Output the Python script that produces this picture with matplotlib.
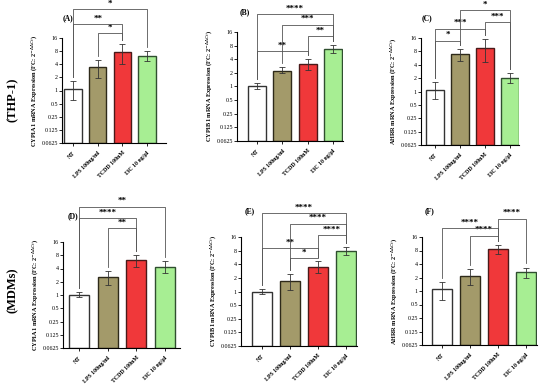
import matplotlib
matplotlib.use("Agg")
import matplotlib.pyplot as plt
import numpy as np

plt.rcParams['font.family'] = ['Liberation Serif', 'DejaVu Serif']

groups = ["NT", "LPS 100ng/ml", "TCDD 100nM", "I3C 10 ng/\u03bcl"]
ytick_vals = [0.0625, 0.125, 0.25, 0.5, 1, 2, 4, 8, 16]
ytick_labels = ["0.0625", "0.125", "0.25", "0.5", "1", "2", "4", "8", "16"]

genes = ["CYP1A1", "CYP1B1", "AHRR", "CYP1A1", "CYP1B1", "AHRR"]
panel_tags = ["(A)", "(B)", "(C)", "(D)", "(E)", "(F)"]

# means (fold change) and lower / upper error bar ends
means = [
    [1.1, 3.5, 7.6, 6.3],
    [1.03, 2.25, 3.16, 6.9],
    [1.1, 7.0, 9.7, 2.06],
    [1.02, 2.5, 6.1, 4.4],
    [1.0, 1.73, 3.53, 7.95],
    [1.11, 2.15, 8.5, 2.64],
]
err_low = [
    [0.6, 1.95, 4.1, 4.7],
    [0.87, 1.97, 2.33, 5.6],
    [0.67, 4.8, 4.7, 1.56],
    [0.91, 1.72, 4.26, 3.16],
    [0.88, 1.06, 2.55, 6.5],
    [0.64, 1.38, 6.6, 1.95],
]
err_high = [
    [1.65, 5.1, 11.8, 7.9],
    [1.22, 2.66, 4.0, 8.1],
    [1.64, 9.2, 15.5, 2.66],
    [1.15, 3.5, 8.0, 5.8],
    [1.13, 2.47, 4.7, 9.6],
    [1.61, 3.03, 10.5, 3.34],
]

# significance comparisons: (group i, group j, label)
sig = [
    [(0, 3, "*"), (0, 2, "**"), (1, 2, "*")],
    [(0, 3, "****"), (1, 3, "***"), (2, 3, "**"), (0, 2, "**")],
    [(1, 3, "*"), (2, 3, "***"), (0, 2, "***"), (0, 1, "*")],
    [(0, 3, "**"), (0, 2, "****"), (1, 2, "**")],
    [(0, 3, "****"), (1, 3, "****"), (2, 3, "****"), (0, 2, "**"), (1, 2, "*")],
    [(2, 3, "****"), (0, 2, "****"), (1, 2, "****")],
]
# bracket heights in log2 units
sig_levels = [
    [6.19, 5.07, 4.36],
    [5.31, 4.54, 3.7, 2.6],
    [6.09, 5.19, 4.69, 3.8],
    [6.66, 5.78, 5.03],
    [5.74, 4.96, 4.15, 3.17, 2.43],
    [5.35, 4.64, 4.1],
]

colors = ["#ffffff", "#a39a6a", "#f0383a", "#a7ee93"]
edges = ["#333333", "#2e2a1a", "#4a1a1a", "#2f4f2f"]

W, H = 550, 392
# axes boxes in pixels: left, right, top, bottom ; and bar center pixels
boxes = [
    (62, 166, 38, 143, (73, 98, 122, 147)),
    (237, 343, 32, 141, (257, 282, 307, 333)),
    (421, 519, 38, 145, (435, 459, 484, 510)),
    (63, 180, 242, 348, (79, 107, 136, 165)),
    (241, 357, 237, 346, (262, 288, 317, 346)),
    (422, 537, 237, 345, (442, 469, 497, 526)),
]
tag_pos = [(63, 18), (240, 12), (422, 18), (68, 216), (245, 211), (425, 211)]

fig = plt.figure(figsize=(W / 100, H / 100), dpi=100)

for k in range(6):
    l, r, t, b, centers = boxes[k]
    ax = fig.add_axes([l / W, 1 - b / H, (r - l) / W, (b - t) / H])
    sp = (centers[3] - centers[0]) / 3.0
    x0 = -(centers[0] - l) / sp
    x1 = 3 + (r - centers[3]) / sp
    x = np.arange(4)
    m = np.array(means[k])
    lo = m - np.array(err_low[k])
    hi = np.array(err_high[k]) - m
    ax.bar(x, m - 0.0625, bottom=0.0625, width=0.7, color=colors,
           edgecolor=edges, linewidth=1.0, zorder=2)
    ax.errorbar(x, m, yerr=[lo, hi], fmt='none', ecolor='#333333',
                elinewidth=0.6, capsize=2, capthick=0.6, zorder=3)
    ax.set_yscale('log', base=2)
    ax.set_ylim(0.0625, 16)
    ax.set_xlim(x0, x1)
    ax.set_yticks(ytick_vals)
    ax.set_yticklabels(ytick_labels)
    ax.minorticks_off()
    ax.set_xticks(x)
    ax.set_xticklabels(groups, rotation=45, ha='right', rotation_mode='anchor',
                       fontsize=4.2, fontweight='bold')
    ax.tick_params(axis='y', labelsize=4.3, length=2, width=0.6, pad=1)
    ax.tick_params(axis='x', length=2, width=0.6, pad=3)
    for s in ['top', 'right']:
        ax.spines[s].set_visible(False)
    for s in ['left', 'bottom']:
        ax.spines[s].set_linewidth(0.8)
    ax.set_ylabel(genes[k] + " mRNA Expression (FC: 2$^{-\\Delta\\Delta Ct}$)",
                  fontsize=4.5, fontweight='bold', labelpad=2)
    # significance brackets
    tops = np.log2(np.array(err_high[k]))
    for (i, j, lab), lev in zip(sig[k], sig_levels[k]):
        ye_i = tops[i] + 0.3
        ye_j = tops[j] + 0.3
        ax.plot([i, i, j, j], [2 ** ye_i, 2 ** lev, 2 ** lev, 2 ** ye_j],
                color='#555555', linewidth=0.6, clip_on=False, zorder=4)
        ax.text((i + j) / 2, 2 ** (lev + 0.12), lab, ha='center', va='bottom',
                fontsize=6.5, fontweight='bold', clip_on=False)
    tx, ty = tag_pos[k]
    fig.text(tx / W, 1 - ty / H, panel_tags[k], fontsize=5.5, fontweight='bold',
             ha='left', va='center')

fig.text(13 / W, 1 - 100 / H, "(THP-1)", rotation=90, fontsize=9, fontweight='bold',
         ha='center', va='center')
fig.text(13 / W, 1 - 290 / H, "(MDMs)", rotation=90, fontsize=9, fontweight='bold',
         ha='center', va='center')

fig.savefig("out.png", dpi=100)
